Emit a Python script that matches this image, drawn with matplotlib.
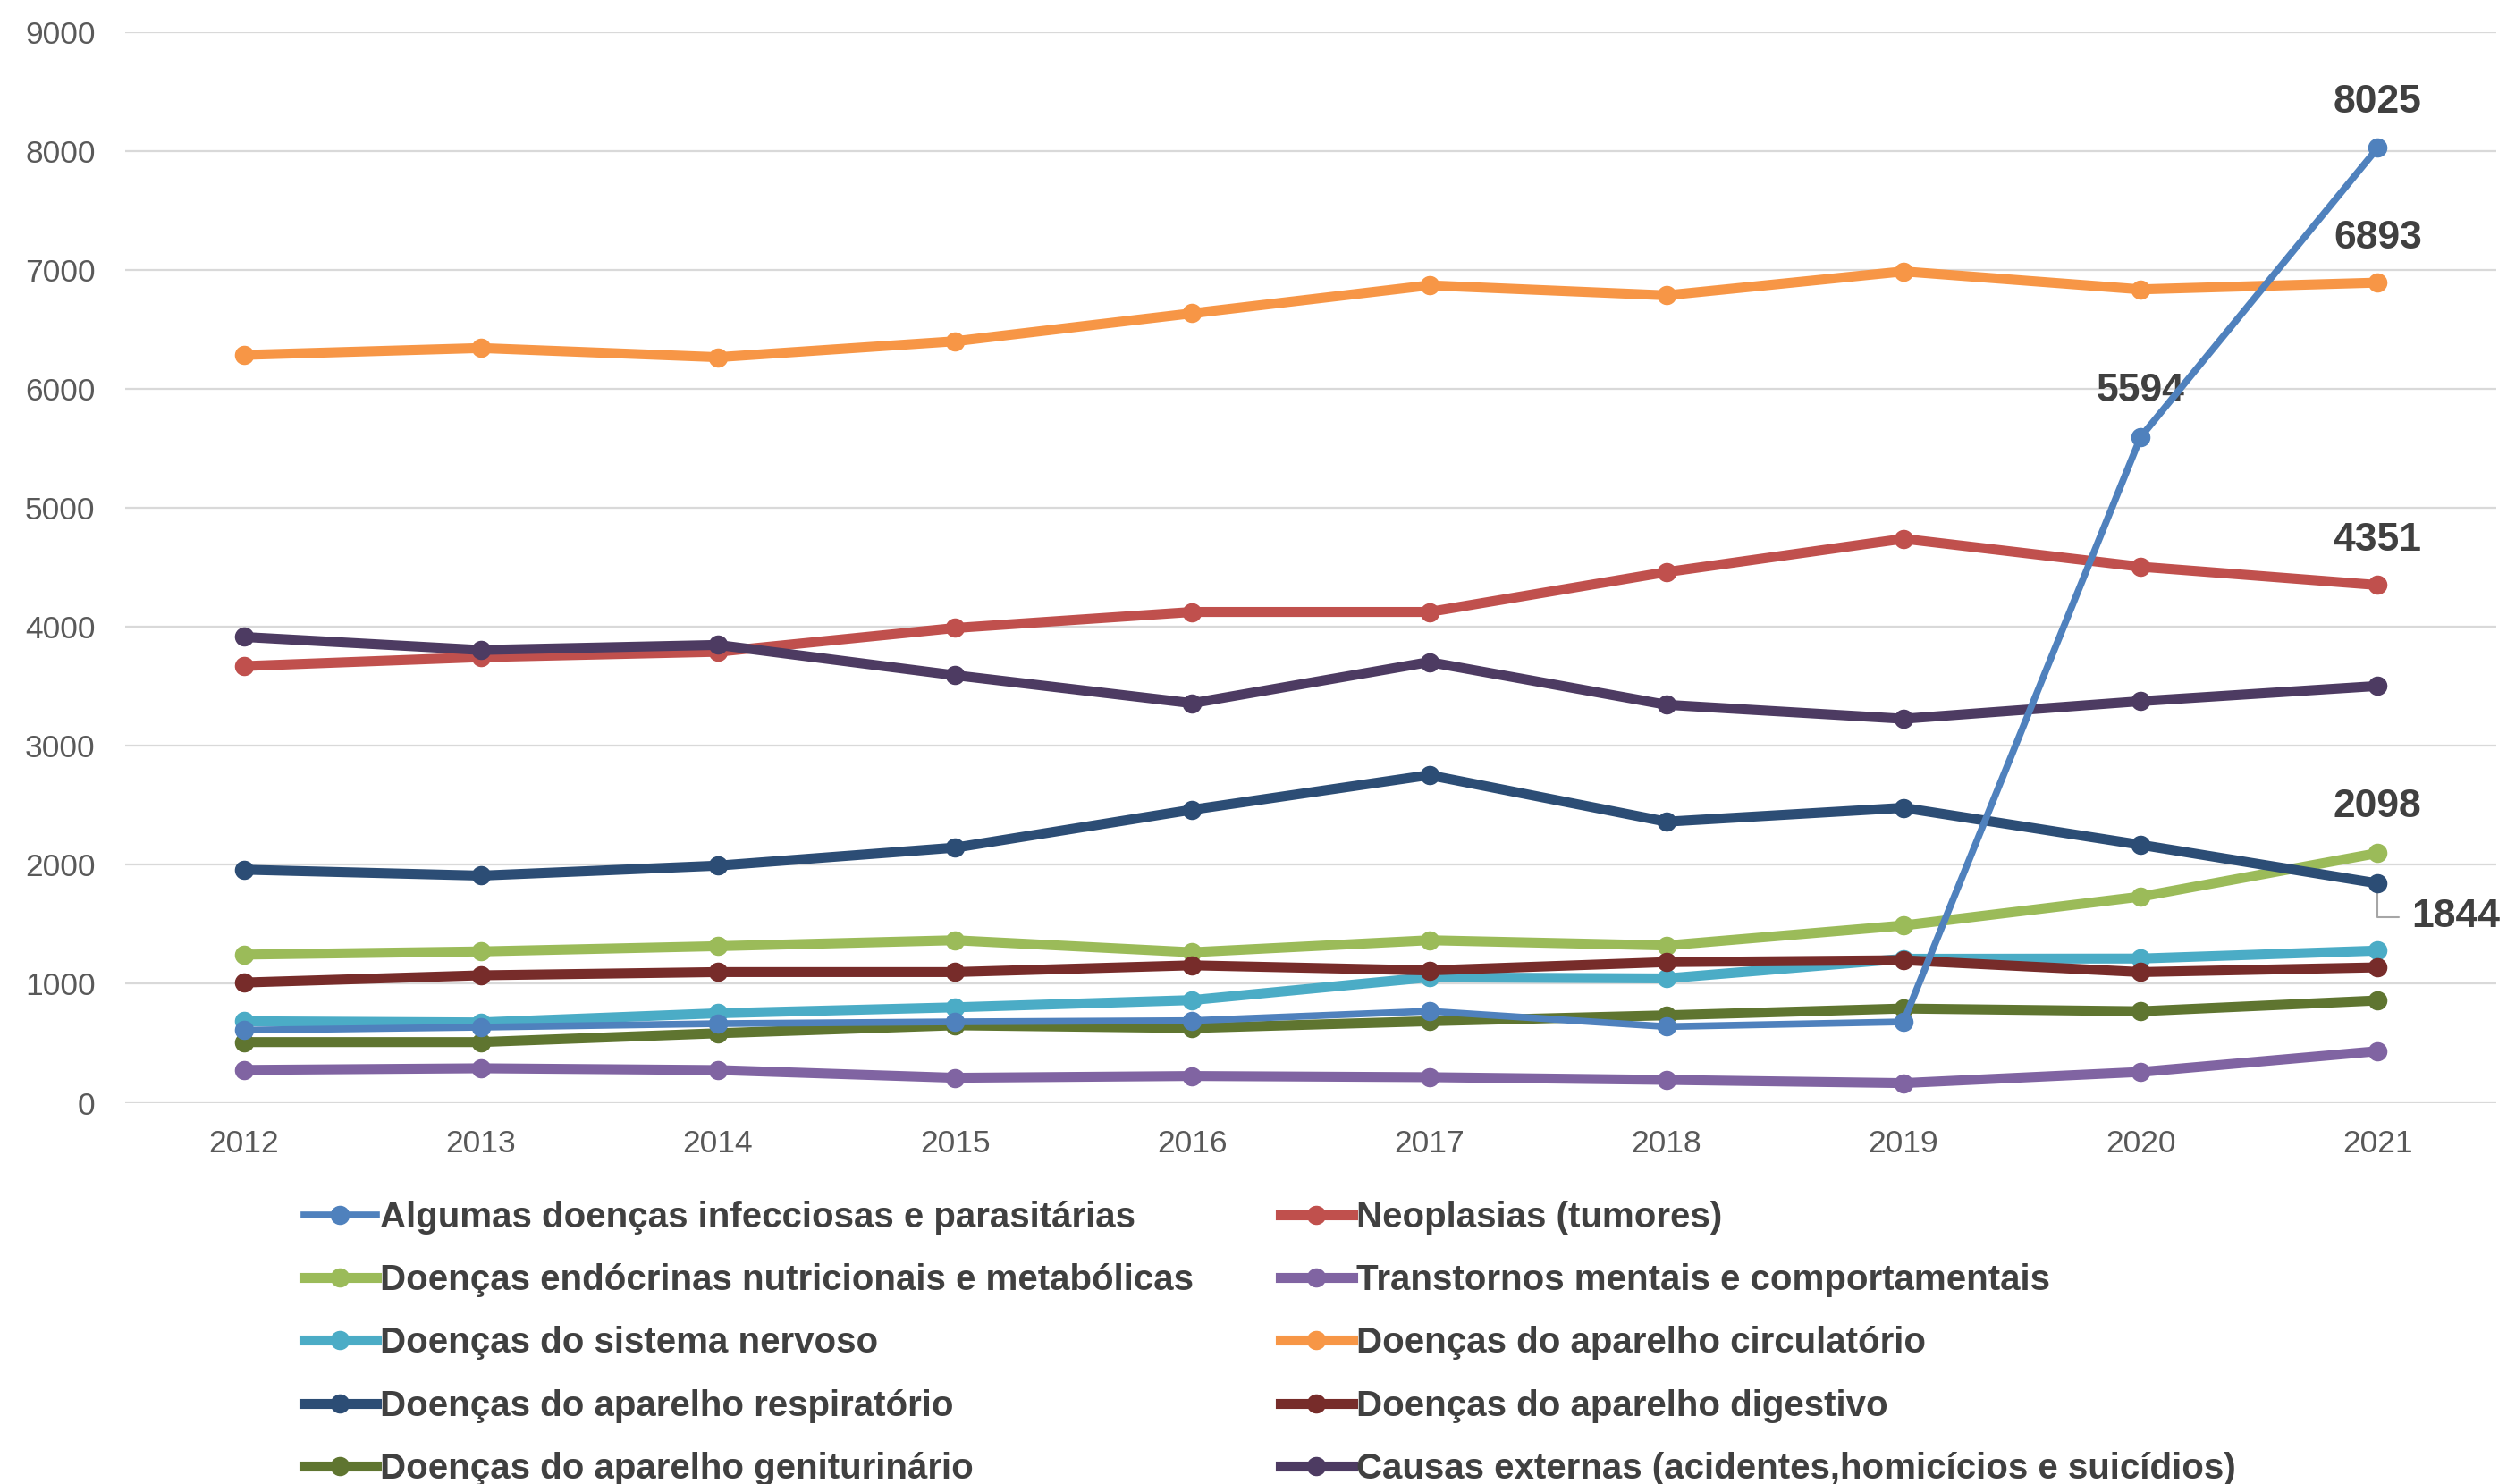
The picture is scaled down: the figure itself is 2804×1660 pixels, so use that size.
import matplotlib
matplotlib.use("Agg")
import matplotlib.pyplot as plt

plt.rcParams['font.family'] = ['Liberation Sans', 'DejaVu Sans']

# ===== Data =====
years = ["2012", "2013", "2014", "2015", "2016", "2017", "2018", "2019", "2020", "2021"]

infecciosas = [610, 635, 665, 680, 690, 770, 640, 680, 5594, 8025]
neoplasias = [3670, 3745, 3790, 3990, 4125, 4125, 4460, 4740, 4505, 4351]
endocrinas = [1245, 1272, 1316, 1366, 1265, 1366, 1322, 1490, 1732, 2098]
transtornos = [276, 290, 275, 210, 225, 215, 192, 165, 259, 434]
nervoso = [685, 675, 752, 802, 863, 1054, 1045, 1210, 1212, 1279]
circulatorio = [6285, 6343, 6266, 6400, 6635, 6870, 6786, 6987, 6836, 6893]
respiratorio = [1959, 1909, 1993, 2144, 2463, 2754, 2362, 2479, 2168, 1844]
digestivo = [1010, 1071, 1098, 1098, 1155, 1112, 1182, 1198, 1098, 1138]
geniturinario = [510, 510, 584, 651, 628, 685, 735, 792, 769, 860]
externas = [3915, 3805, 3848, 3593, 3358, 3704, 3345, 3227, 3375, 3503]

series = [
    ("Algumas doenças infecciosas e parasitárias", infecciosas, "#4F81BD"),
    ("Neoplasias (tumores)", neoplasias, "#C0504D"),
    ("Doenças endócrinas nutricionais e metabólicas", endocrinas, "#9BBB59"),
    ("Transtornos mentais e comportamentais", transtornos, "#8064A2"),
    ("Doenças do sistema nervoso", nervoso, "#4BACC6"),
    ("Doenças do aparelho circulatório", circulatorio, "#F79646"),
    ("Doenças do aparelho respiratório", respiratorio, "#2C4D75"),
    ("Doenças do aparelho digestivo", digestivo, "#772C2A"),
    ("Doenças do aparelho geniturinário", geniturinario, "#5F7530"),
    ("Causas externas (acidentes,homicícios e suicídios)", externas, "#4D3B62"),
]

# ===== Figure =====
fig = plt.figure(figsize=(28.04, 16.6), dpi=100)
ax = fig.add_axes([0.0499, 0.2569, 0.9458, 0.7216])

x = list(range(len(years)))
handles = []
for i, (name, vals, col) in enumerate(series):
    lw = 5.5 if i == 0 else 8
    z = 4 if i == 0 else 3 + i * 0.01
    h, = ax.plot(x, vals, color=col, linewidth=lw, marker='o', markersize=14.5,
                 solid_joinstyle='round', label=name, zorder=z)
    handles.append(h)

ax.set_xlim(-0.5, len(years) - 0.5)
ax.set_ylim(0, 9000)
ax.set_yticks(range(0, 9001, 1000))
ax.set_xticks(x)
ax.set_xticklabels(years)
ax.grid(axis='y', color='#D9D9D9', linewidth=1.6)
ax.set_axisbelow(True)
for s in ax.spines.values():
    s.set_visible(False)
ax.tick_params(axis='both', length=0, labelsize=25.5, labelcolor='#595959')
ax.tick_params(axis='y', pad=24)
ax.tick_params(axis='x', pad=21)

# ===== Data labels =====
lab = dict(fontsize=32, fontweight='bold', color='#404040', ha='center', va='center',
           textcoords='offset points', annotation_clip=False)
ax.annotate(str(infecciosas[9]), (9, infecciosas[9]), xytext=(0, 37), **lab)
ax.annotate(str(infecciosas[8]), (8, infecciosas[8]), xytext=(0, 37), **lab)
ax.annotate(str(circulatorio[9]), (9, circulatorio[9]), xytext=(0, 36), **lab)
ax.annotate(str(neoplasias[9]), (9, neoplasias[9]), xytext=(0, 36), **lab)
ax.annotate(str(endocrinas[9]), (9, endocrinas[9]), xytext=(0, 37), **lab)
ax.annotate(str(respiratorio[9]), (9, respiratorio[9]), xytext=(27, -27),
            fontsize=32, fontweight='bold', color='#404040', ha='left', va='center',
            textcoords='offset points', annotation_clip=False,
            arrowprops=dict(arrowstyle='-', color='#A6A6A6', lw=1.5,
                            connectionstyle='angle,angleA=0,angleB=90,rad=0',
                            relpos=(0, 0.5), shrinkA=8, shrinkB=3))

# ===== Legend (two columns, row-wise order) =====
leg_kw = dict(frameon=False, handlelength=2.0, handletextpad=0.12,
              labelspacing=0.80, borderaxespad=0, borderpad=0,
              prop={'weight': 'bold', 'size': 29})
col1 = [handles[i] for i in (0, 2, 4, 6, 8)]
col2 = [handles[i] for i in (1, 3, 5, 7, 9)]
leg1 = fig.legend(col1, [h.get_label() for h in col1], loc='upper left',
                  bbox_to_anchor=(340 / 2804, 1 - 1343 / 1660), **leg_kw)
leg2 = fig.legend(col2, [h.get_label() for h in col2], loc='upper left',
                  bbox_to_anchor=(1432 / 2804, 1 - 1343 / 1660), **leg_kw)
for lg in (leg1, leg2):
    for t in lg.get_texts():
        t.set_color('#404040')

fig.savefig("out.png", dpi=100)
